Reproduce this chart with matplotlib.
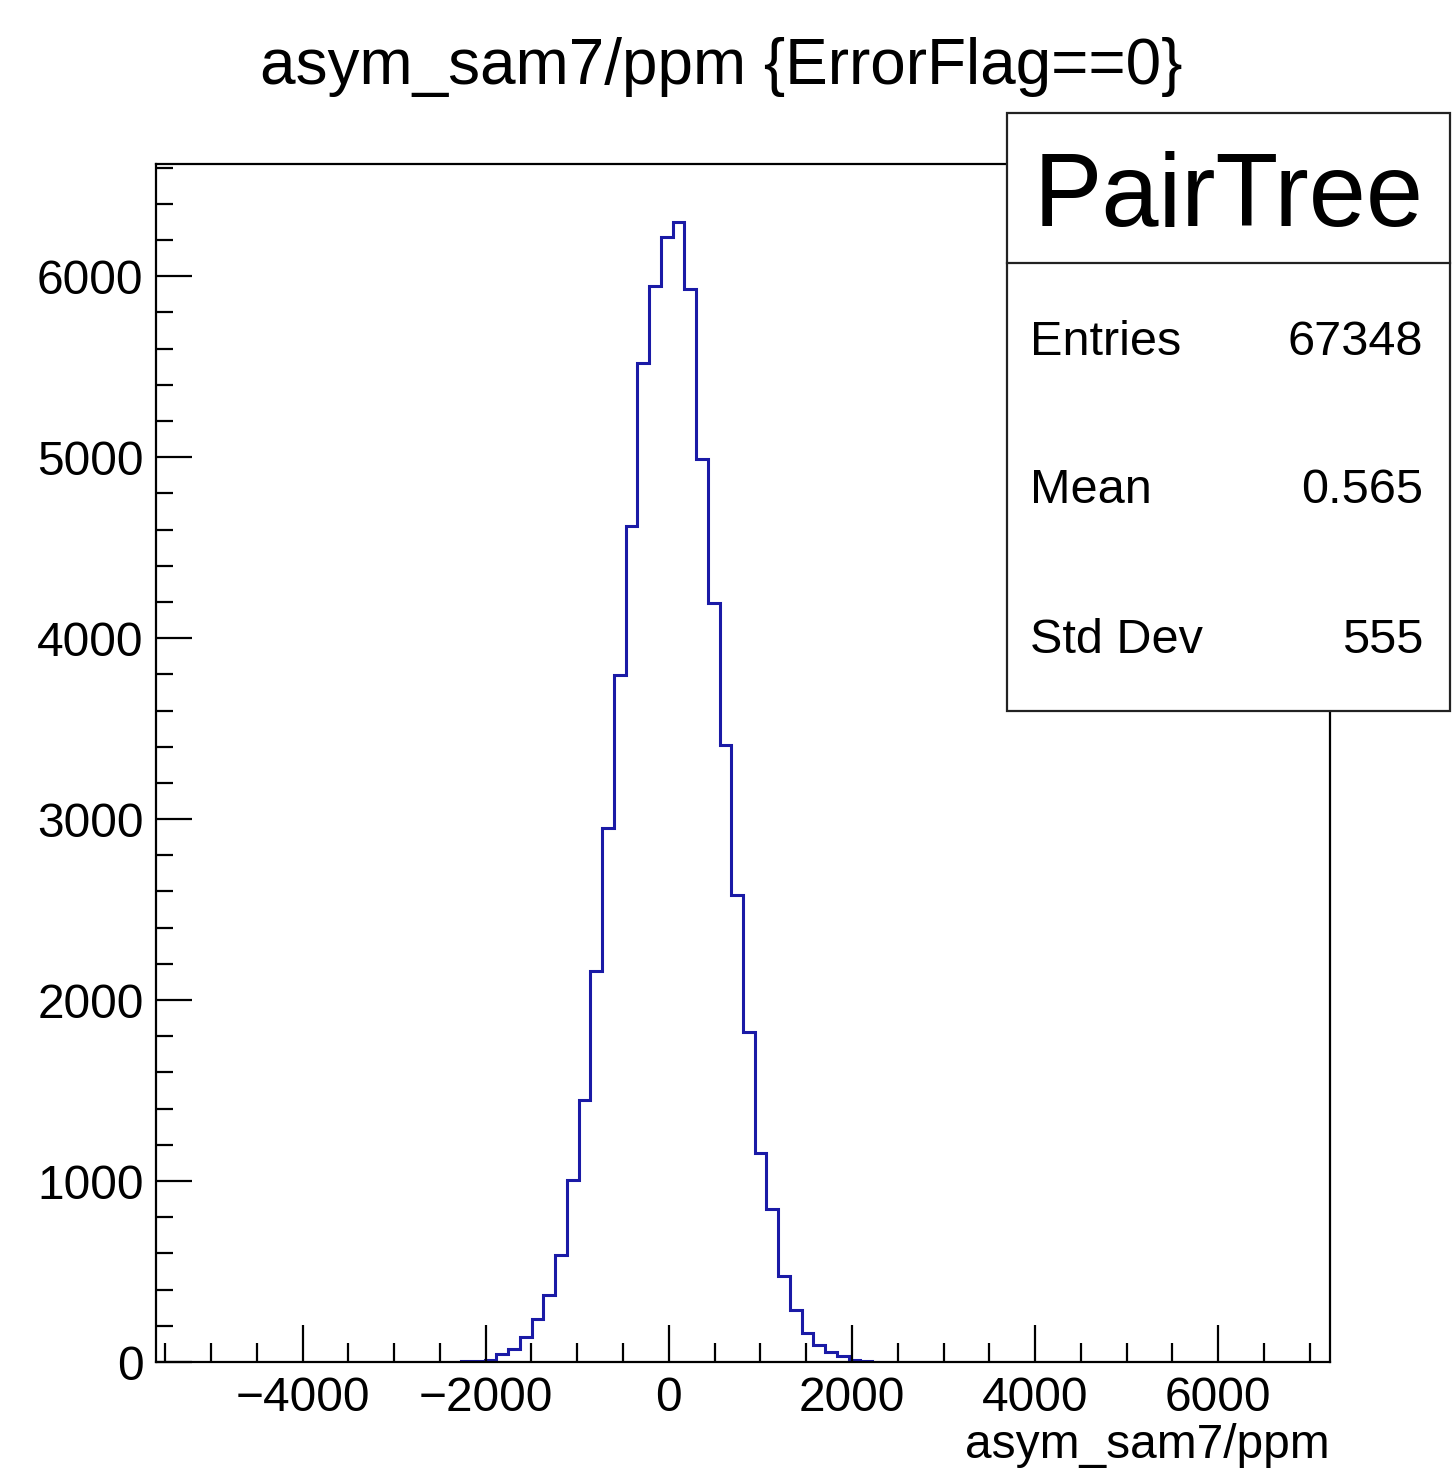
import numpy as np
import matplotlib
matplotlib.use('Agg')
import matplotlib.pyplot as plt
from matplotlib.patches import Rectangle
from matplotlib.lines import Line2D
from matplotlib.ticker import MultipleLocator

plt.rcParams['font.family'] = ['Liberation Sans', 'DejaVu Sans']

# histogram definition (100 bins over the axis range), only filled bins kept
x_min, x_max, n_bins = -5600, 7220, 100
first_bin = 26
counts = [3, 5, 10, 42, 74, 138, 240, 369, 594,
          1006, 1450, 2159, 2953, 3794, 4619, 5523, 5947, 6215, 6301,
          5932, 4988, 4192, 3412, 2582, 1821, 1154, 843,
          474, 289, 162, 92, 55, 31, 12, 6]

title = 'asym_sam7/ppm {ErrorFlag==0}'
x_label = 'asym_sam7/ppm'
stats_name = 'PairTree'
stats_labels = ['Entries', 'Mean', 'Std Dev']
stats_values = ['67348', '0.565', '555']

W, H = 1452, 1471
fig = plt.figure(figsize=(W / 100, H / 100), dpi=100)
ax = fig.add_axes([156 / W, 1 - 1362 / H, (1330 - 156) / W, (1362 - 164) / H])

width = (x_max - x_min) / n_bins
edges = x_min + width * np.arange(first_bin, first_bin + len(counts) + 1)
ax.stairs(counts, edges, baseline=0, color='#1a1aa6', linewidth=2.2)

ax.set_xlim(x_min, x_max)
ax.set_ylim(0, 6620)
ax.xaxis.set_major_locator(MultipleLocator(2000))
ax.xaxis.set_minor_locator(MultipleLocator(500))
ax.yaxis.set_major_locator(MultipleLocator(1000))
ax.yaxis.set_minor_locator(MultipleLocator(200))
ax.tick_params(which='both', direction='in', top=False, right=False,
               width=1.6, color='black', labelsize=34.5)
ax.tick_params(axis='x', which='major', length=27, pad=10)
ax.tick_params(axis='x', which='minor', length=14)
ax.tick_params(axis='y', which='major', length=26, pad=9)
ax.tick_params(axis='y', which='minor', length=12.5)
for s in ax.spines.values():
    s.set_linewidth(1.6)

fig.text(721 / W, 1 - 84 / H, title, ha='center', va='baseline', fontsize=46)
fig.text(1330 / W, 1 - 1458 / H, x_label, ha='right', va='baseline', fontsize=34.5)

# stats box
bx0, bx1, by0, by1, bdiv = 1007, 1450, 113, 711, 263
fig.add_artist(Rectangle((bx0 / W, 1 - by1 / H), (bx1 - bx0) / W, (by1 - by0) / H,
                         transform=fig.transFigure, facecolor='white',
                         edgecolor='#222222', linewidth=1.6, zorder=5))
fig.add_artist(Line2D([bx0 / W, bx1 / W], [1 - bdiv / H, 1 - bdiv / H],
                      transform=fig.transFigure, color='#222222', linewidth=1.6, zorder=6))
fig.text((bx0 + bx1) / 2 / W, 1 - 226 / H, stats_name, ha='center', va='baseline',
         fontsize=74, zorder=7)
for lab, val, yb in zip(stats_labels, stats_values, [355, 503, 653]):
    fig.text(1030 / W, 1 - yb / H, lab, ha='left', va='baseline', fontsize=35, zorder=7)
    fig.text(1423 / W, 1 - yb / H, val, ha='right', va='baseline', fontsize=35, zorder=7)

fig.savefig('out.png', dpi=100)
